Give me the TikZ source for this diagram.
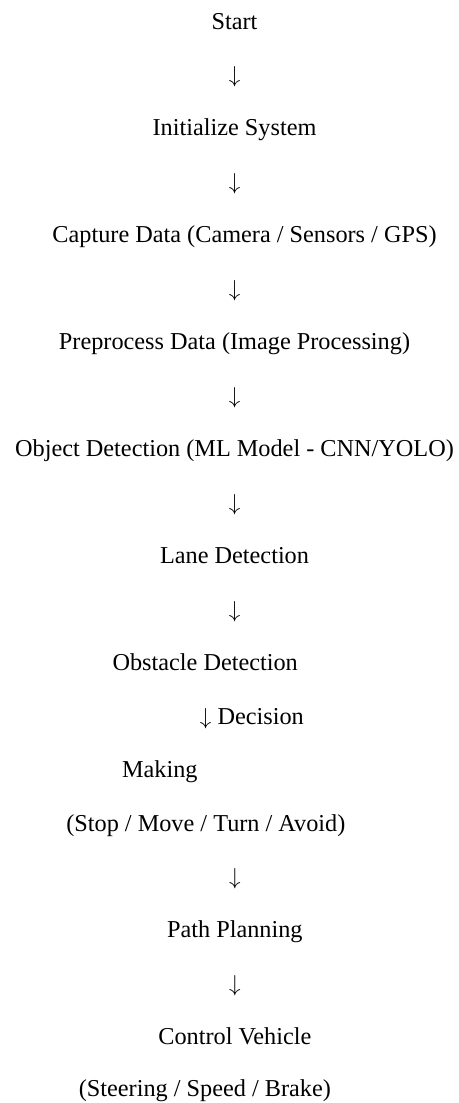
\documentclass[tikz,border=0pt]{standalone}
\usepackage{fontspec}
\setmainfont{Liberation Serif}
\usetikzlibrary{positioning}

\begin{document}
\begin{tikzpicture}[
    font=\fontsize{18.2}{22}\selectfont,
    flowtext/.style={inner sep=0pt, outer sep=0pt, text height=14pt, text depth=4.6pt},
    node distance=21.5pt,
]
\useasboundingbox (0,0) rectangle (344.25pt,-827.25pt);

% --- main column (arrows are typed glyphs) ---
\node[flowtext, anchor=base] (start) at (175.9pt,-21.75pt) {Start};
\node[flowtext, below=of start]   (arr1)    {$\downarrow$};
\node[flowtext, below=of arr1]    (init)    {Initialize System};
\node[flowtext, below=of init]    (arr2)    {$\downarrow$};
\node[flowtext, below=of arr2, xshift=7.5pt]    (capture) {Capture Data (Camera / Sensors / GPS)};
\node[flowtext, below=of capture, xshift=-7.5pt] (arr3)   {$\downarrow$};
\node[flowtext, below=of arr3]    (prep)    {Preprocess Data (Image Processing)};
\node[flowtext, below=of prep]    (arr4)    {$\downarrow$};
\node[flowtext, below=of arr4]    (objdet)  {Object Detection (ML Model - CNN/YOLO)};
\node[flowtext, below=of objdet]  (arr5)    {$\downarrow$};
\node[flowtext, below=of arr5]    (lane)    {Lane Detection};
\node[flowtext, below=of lane]    (arr6)    {$\downarrow$};

% --- shifted block (decision part) ---
\node[flowtext, below=of arr6, xshift=-22pt]    (obst)     {Obstacle Detection};
\node[flowtext, below=of obst, xshift=35pt]     (decision) {$\downarrow$ Decision};
\node[flowtext, below=of decision, xshift=-69pt] (making)  {Making};
\node[flowtext, below=of making, xshift=34.5pt] (choices)  {(Stop / Move / Turn / Avoid)};

% --- back to the main column ---
\node[flowtext, below=of choices, xshift=21.75pt] (arr8)   {$\downarrow$};
\node[flowtext, below=of arr8]    (path)    {Path Planning};
\node[flowtext, below=of path]    (arr9)    {$\downarrow$};
\node[flowtext, below=of arr9]    (control) {Control Vehicle};
\node[flowtext, below=of control, xshift=-22.5pt, yshift=1.5pt] (actuate) {(Steering / Speed / Brake)};

\end{tikzpicture}
\end{document}
